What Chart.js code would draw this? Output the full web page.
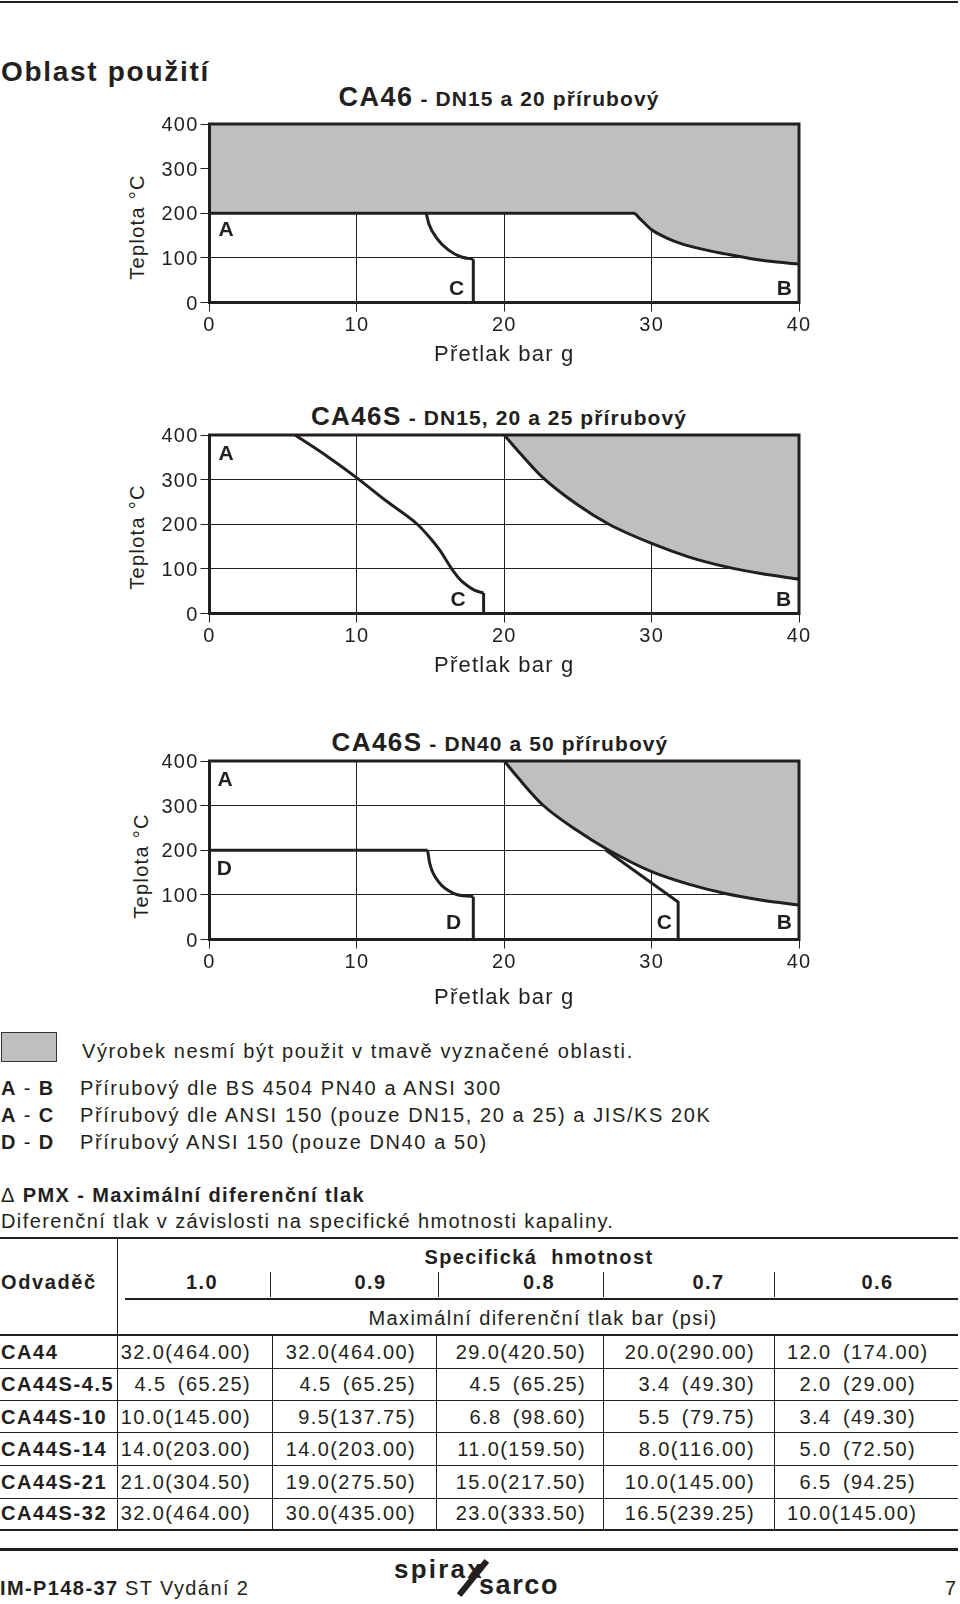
<!DOCTYPE html>
<html>
<head>
<meta charset="utf-8">
<script src="https://cdn.jsdelivr.net/npm/chart.js@4.4.1/dist/chart.umd.min.js"></script>
<style>
  html, body { margin: 0; padding: 0; background: #fff; }
  #page { position: relative; width: 960px; height: 1604px; overflow: hidden;
          font-family: 'Liberation Sans', Arial, Helvetica, sans-serif; color: #231f20; }
  .t { position: absolute; white-space: pre; line-height: 1; transform: translateY(-50%);
       letter-spacing: 1.4px; font-size: 20px; }
  .c { transform: translate(-50%, -50%); }
  .r { transform: translate(-100%, -50%); }
  .b { font-weight: bold; }
  .ln { position: absolute; background: #231f20; }
  canvas { position: absolute; left: 100px; }
  .ytitle { position: absolute; font-size: 20px; letter-spacing: 1.3px; white-space: nowrap; line-height: 1;
            transform: translate(-50%, -50%) rotate(-90deg); }
  .swatch { position: absolute; left: 1px; top: 1032px; width: 54px; height: 28px;
            background: #bebfc1; border: 1.5px solid #333; }
  .logo { position: absolute; white-space: pre; line-height: 1; transform: translateY(-50%);
          font-weight: bold; color: #231f20; }
</style>
</head>
<body>
<div id="page">
  <div class="ln" style="left:0;top:1px;width:958px;height:2px"></div>
  <div class="t b" style="left:1px;top:72px;font-size:28px;letter-spacing:1.7px">Oblast použití</div>

  <!-- chart titles -->
  <div class="t c b" style="left:499px;top:97px;letter-spacing:1.1px"><span style="font-size:27px;letter-spacing:1.5px">CA46</span><span style="font-size:21px"> - DN15 a 20 přírubový</span></div>
  <div class="t c b" style="left:499px;top:416px;letter-spacing:1.1px"><span style="font-size:26px;letter-spacing:1.4px">CA46S</span><span style="font-size:21px"> - DN15, 20 a 25 přírubový</span></div>
  <div class="t c b" style="left:500px;top:742px;letter-spacing:1.1px"><span style="font-size:26px;letter-spacing:1.4px">CA46S</span><span style="font-size:21px"> - DN40 a 50 přírubový</span></div>

  <div class="ytitle" style="left:137px;top:227px">Teplota °C</div>
  <div class="ytitle" style="left:137px;top:537px">Teplota °C</div>
  <div class="ytitle" style="left:141px;top:866px">Teplota °C</div>

  <canvas id="c1" width="720" height="262" style="top:110px"></canvas>
  <canvas id="c2" width="720" height="262" style="top:421px"></canvas>
  <canvas id="c3" width="720" height="268" style="top:747px"></canvas>

  <!-- legend -->
  <div class="swatch"></div>
  <div class="t" style="left:82px;top:1051px;letter-spacing:1.6px">Výrobek nesmí být použit v tmavě vyznačené oblasti.</div>
  <div class="t" style="left:1px;top:1088px"><b>A</b> - <b>B</b></div>
  <div class="t" style="left:80px;top:1088px;letter-spacing:1.6px">Přírubový dle BS 4504 PN40 a ANSI 300</div>
  <div class="t" style="left:1px;top:1115px"><b>A</b> - <b>C</b></div>
  <div class="t" style="left:80px;top:1115px;letter-spacing:1.6px">Přírubový dle ANSI 150 (pouze DN15, 20 a 25) a JIS/KS 20K</div>
  <div class="t" style="left:1px;top:1142px"><b>D</b> - <b>D</b></div>
  <div class="t" style="left:80px;top:1142px;letter-spacing:1.6px">Přírubový ANSI 150 (pouze DN40 a 50)</div>

  <div class="t b" style="left:1px;top:1195px"><span style="font-weight:normal">Δ</span> PMX - Maximální diferenční tlak</div>
  <div class="t" style="left:1px;top:1221px;letter-spacing:1.4px">Diferenční tlak v závislosti na specifické hmotnosti kapaliny.</div>

  <div id="table"></div>

  <!-- footer -->
  <div class="ln" style="left:0;top:1548px;width:958px;height:3px"></div>
  <div class="t b" style="left:0;top:1588px">IM-P148-37</div>
  <div class="t" style="left:125px;top:1588px">ST Vydání 2</div>
  <div class="t r" style="left:956px;top:1588px;letter-spacing:0">7</div>
  <div class="logo" style="left:394px;top:1569px;font-size:26px;letter-spacing:2.2px">spirax</div>
  <div class="logo" style="left:479px;top:1585px;font-size:27px;letter-spacing:1.6px">sarco</div>
  <div class="ln" style="left:451px;top:1575px;width:44px;height:6px;transform:rotate(-51deg)"></div>
</div>

<script>
const INK = '#231f20';
const GRAY = '#bebfc1';
const FONT = "'Liberation Sans', Arial, Helvetica, sans-serif";

// ---- chart data (pressure bar g, temperature °C) ----
// CA46 DN15/20
const ca46ABx = [0, 28.8, 29.2, 30, 31, 32, 33.5, 35, 37, 38.5, 40];
const ca46ABy = [200, 200, 188, 163, 145, 132, 119, 109, 97, 90.5, 86];
const ca46ACx = [14.7, 14.9, 15.4, 16.2, 17.1, 17.9];
const ca46ACy = [200, 175, 145, 118, 102, 97];
const ca46CDropX = [17.9, 17.9];
const ca46CDropY = [97, 0];

// CA46S DN15/20/25
const ca46sABx = [20, 21, 22.6, 25, 27.1, 30, 32.5, 35, 37.5, 40];
const ca46sABy = [400, 362, 305, 243, 200, 157, 127, 105, 89, 77];
const ca46sACx = [5.8, 8, 10, 12, 14.1, 15, 15.6, 16.5, 17, 17.5, 18, 18.6];
const ca46sACy = [400, 352, 304, 252, 200, 168, 143, 97, 76, 62, 52, 46];
const ca46sCDropX = [18.6, 18.6];
const ca46sCDropY = [46, 0];

// CA46S DN40/50
const ca46lABx = [20, 21, 22.6, 25, 27.1, 30, 32.5, 35, 37.5, 40];
const ca46lABy = [400, 360, 302, 243, 200, 152, 124, 103, 88, 77];
const ca46lACx = [26.9, 31.8, 31.8];
const ca46lACy = [200, 84, 0];
const ca46lDflatX = [0, 14.8];
const ca46lDflatY = [200, 200];
const ca46lDDx = [14.8, 14.95, 15.55, 16.6, 17.9];
const ca46lDDy = [200, 170, 129, 103, 96];
const ca46lDDropX = [17.9, 17.9];
const ca46lDDropY = [96, 0];

// zone letters
const ca46LabelText = ['A', 'C', 'B'];
const ca46LabelX = [1.17, 16.8, 39.05];
const ca46LabelY = [161, 29, 30];
const ca46sLabelText = ['A', 'C', 'B'];
const ca46sLabelX = [1.17, 16.9, 39.0];
const ca46sLabelY = [358, 29, 29];
const ca46lLabelText = ['A', 'D', 'D', 'C', 'B'];
const ca46lLabelX = [1.1, 1.05, 16.6, 30.9, 39.05];
const ca46lLabelY = [357, 157, 36, 36, 36];

// ---- table data ----
const trapNames = ['CA44', 'CA44S-4.5', 'CA44S-10', 'CA44S-14', 'CA44S-21', 'CA44S-32'];
const specGravity = ['1.0', '0.9', '0.8', '0.7', '0.6'];
const dpBar10 = [32.0, 4.5, 10.0, 14.0, 21.0, 32.0];
const dpPsi10 = [464.00, 65.25, 145.00, 203.00, 304.50, 464.00];
const dpBar09 = [32.0, 4.5, 9.5, 14.0, 19.0, 30.0];
const dpPsi09 = [464.00, 65.25, 137.75, 203.00, 275.50, 435.00];
const dpBar08 = [29.0, 4.5, 6.8, 11.0, 15.0, 23.0];
const dpPsi08 = [420.50, 65.25, 98.60, 159.50, 217.50, 333.50];
const dpBar07 = [20.0, 3.4, 5.5, 8.0, 10.0, 16.5];
const dpPsi07 = [290.00, 49.30, 79.75, 116.00, 145.00, 239.25];
const dpBar06 = [12.0, 2.0, 3.4, 5.0, 6.5, 10.0];
const dpPsi06 = [174.00, 29.00, 49.30, 72.50, 94.25, 145.00];

// ---- chart helpers ----
const pts = (xs, ys) => xs.map((x, i) => ({ x: x, y: ys[i] }));

function curve(xs, ys, shaded) {
    return {
        data: pts(xs, ys),
        showLine: true,
        pointRadius: 0,
        borderColor: INK,
        borderWidth: 3,
        cubicInterpolationMode: 'monotone',
        fill: shaded ? 'end' : false,
        backgroundColor: GRAY
    };
}

function straight(xs, ys) {
    return {
        data: pts(xs, ys),
        showLine: true,
        pointRadius: 0,
        borderColor: INK,
        borderWidth: 3,
        tension: 0,
        fill: false
    };
}

const tracking = {
    id: 'tracking',
    beforeDraw(chart) { chart.ctx.letterSpacing = '1.2px'; }
};

const frame = {
    id: 'frame',
    afterDatasetsDraw(chart) {
        const { ctx, chartArea: a } = chart;
        ctx.save();
        ctx.strokeStyle = INK;
        ctx.lineWidth = 3;
        ctx.strokeRect(a.left, a.top, a.right - a.left, a.bottom - a.top);
        ctx.restore();
    }
};

const zoneLabels = {
    id: 'zoneLabels',
    afterDatasetsDraw(chart, args, opts) {
        const { ctx, scales: { x, y } } = chart;
        ctx.save();
        ctx.font = 'bold 21px ' + FONT;
        ctx.fillStyle = INK;
        ctx.textAlign = 'center';
        ctx.textBaseline = 'middle';
        opts.text.forEach((t, i) => {
            ctx.fillText(t, x.getPixelForValue(opts.xs[i]), y.getPixelForValue(opts.ys[i]));
        });
        ctx.restore();
    }
};

function makeChart(id, datasets, text, xs, ys, xAxisHeight) {
    return new Chart(document.getElementById(id), {
        type: 'scatter',
        data: { datasets: datasets },
        options: {
            responsive: false,
            animation: false,
            devicePixelRatio: 1,
            layout: { padding: { left: 0, right: 21, top: 12.7, bottom: 0 } },
            plugins: {
                legend: { display: false },
                tooltip: { enabled: false },
                zoneLabels: { text: text, xs: xs, ys: ys }
            },
            scales: {
                x: {
                    type: 'linear', min: 0, max: 40,
                    ticks: { stepSize: 10, maxRotation: 0, padding: 2, color: INK, font: { family: FONT, size: 20 } },
                    grid: { color: INK, lineWidth: 1, tickLength: 9 },
                    border: { display: false },
                    title: { display: true, text: 'Přetlak bar g', color: INK,
                             font: { family: FONT, size: 22 }, padding: { top: 4, bottom: 4 } },
                    afterFit(s) { s.height = xAxisHeight; }
                },
                y: {
                    type: 'linear', min: 0, max: 400,
                    ticks: { stepSize: 100, padding: 2, labelOffset: 1.5, color: INK, font: { family: FONT, size: 20 } },
                    grid: { color: INK, lineWidth: 1, tickLength: 9 },
                    border: { display: false },
                    afterFit(s) { s.width = 109.5; }
                }
            }
        },
        plugins: [tracking, frame, zoneLabels]
    });
}

makeChart('c1', [
    curve(ca46ACx, ca46ACy, false),
    straight(ca46CDropX, ca46CDropY),
    curve(ca46ABx, ca46ABy, true)
], ca46LabelText, ca46LabelX, ca46LabelY, 69.5);

makeChart('c2', [
    curve(ca46sACx, ca46sACy, false),
    straight(ca46sCDropX, ca46sCDropY),
    curve(ca46sABx, ca46sABy, true)
], ca46sLabelText, ca46sLabelX, ca46sLabelY, 69.5);

makeChart('c3', [
    straight(ca46lACx, ca46lACy),
    straight(ca46lDflatX, ca46lDflatY),
    curve(ca46lDDx, ca46lDDy, false),
    straight(ca46lDDropX, ca46lDDropY),
    curve(ca46lABx, ca46lABy, true)
], ca46lLabelText, ca46lLabelX, ca46lLabelY, 75.5);

// ---- table ----
(function buildTable() {
    const host = document.getElementById('table');
    const add = (cls, style, text) => {
        const d = document.createElement('div');
        d.className = cls;
        d.setAttribute('style', style);
        if (text !== undefined) d.textContent = text;
        host.appendChild(d);
    };
    const hline = (y, x0, x1, h) => add('ln', `left:${x0}px;top:${y - h / 2}px;width:${x1 - x0}px;height:${h}px`);
    const vline = (x, y0, y1) => add('ln', `left:${x - 0.5}px;top:${y0}px;width:1px;height:${y1 - y0}px`);

    hline(1238, 0, 958, 2);
    hline(1299, 125, 958, 2);
    hline(1335, 0, 958, 2);
    vline(117.6, 1238, 1530);

    add('t c b', 'left:539px;top:1257px', 'Specifická  hmotnost');
    add('t b', 'left:1px;top:1282px;letter-spacing:1.6px', 'Odvaděč');
    const sgCenters = [202, 370.5, 539, 708.5, 877.5];
    specGravity.forEach((sg, i) => add('t c b', `left:${sgCenters[i]}px;top:1282px`, sg));
    [270, 438.5, 603, 774.6].forEach(x => vline(x, 1272, 1297));
    add('t c', 'left:543px;top:1318px', 'Maximální diferenční tlak bar (psi)');

    const rowCenters = [1351.7, 1384.3, 1416.7, 1449.3, 1481.7, 1513.3];
    const rowLines = [1368, 1400.5, 1432.5, 1465, 1498];
    rowLines.forEach(y => hline(y, 0, 958, 1));
    hline(1530, 0, 958, 2);
    [272.5, 436.6, 603.8, 774.6].forEach(x => vline(x, 1335, 1530));

    const bars = [dpBar10, dpBar09, dpBar08, dpBar07, dpBar06];
    const psis = [dpPsi10, dpPsi09, dpPsi08, dpPsi07, dpPsi06];
    const rightEdges = [251, 416, 586, 755];
    const cell = (b, p, gap) => b.toFixed(1) + (gap ? '\u2002' : '') + '(' + p.toFixed(2) + ')';

    trapNames.forEach((name, r) => {
        const y = rowCenters[r];
        add('t b', `left:1px;top:${y}px;letter-spacing:1.6px`, name);
        for (let c = 0; c < 4; c++) {
            const p = psis[c][r];
            add('t r', `left:${rightEdges[c]}px;top:${y}px`, cell(bars[c][r], p, p < 100));
        }
        const b = bars[4][r], p = psis[4][r];
        add('t', `left:787px;top:${y}px`, (b < 10 ? '\u2007' : '') + cell(b, p, p < 100 || b > 10));
    });
})();
</script>
</body>
</html>
